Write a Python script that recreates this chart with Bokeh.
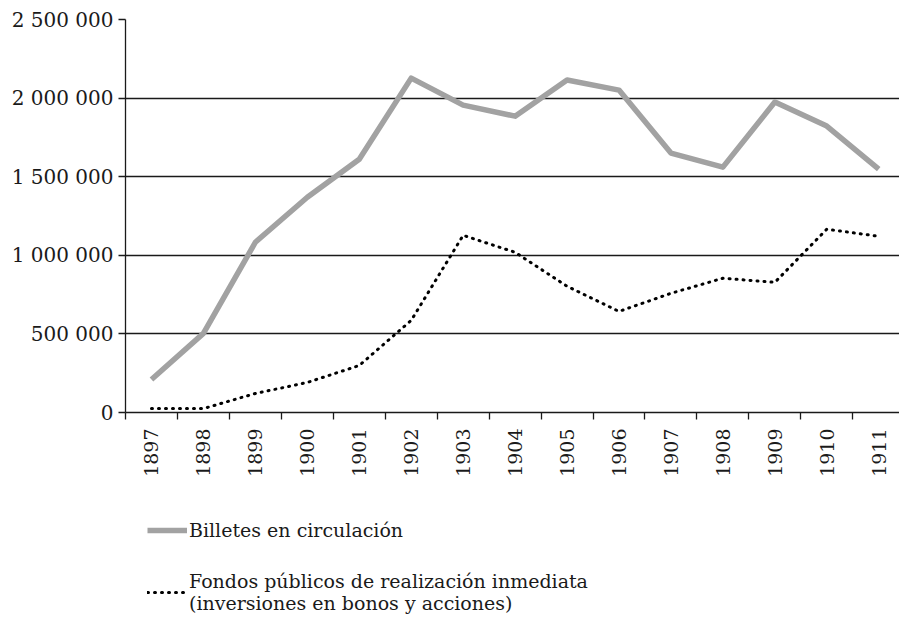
import math
from bokeh.plotting import figure
from bokeh.layouts import column
from bokeh.models import FixedTicker, Range1d, Legend, LegendItem
from bokeh.embed import file_html
from bokeh.resources import INLINE

years = ["1897", "1898", "1899", "1900", "1901", "1902", "1903", "1904",
         "1905", "1906", "1907", "1908", "1909", "1910", "1911"]
billetes = [210000, 503000, 1083000, 1369000, 1611000, 2127000, 1955000, 1885000,
            2115000, 2051000, 1650000, 1561000, 1975000, 1822000, 1548000]
fondos = [25000, 25000, 121000, 191000, 299000, 586000, 1127000, 1019000,
          803000, 643000, 758000, 854000, 828000, 1166000, 1121000]
y_ticks = [0, 500000, 1000000, 1500000, 2000000, 2500000]
y_tick_labels = ["0", "500 000", "1 000 000", "1 500 000", "2 000 000", "2 500 000"]
label_billetes = "Billetes en circulación"
label_fondos = "Fondos públicos de realización inmediata\n(inversiones en bonos y acciones)"

FONT = "DejaVu Serif"
TXT = "#1a1a1a"
GRAY_STYLE = dict(line_color="#a2a2a2", line_width=5.5, line_join="round")
DOT_STYLE = dict(line_color="black", line_width=3, line_dash="1 6", line_cap="round")

x_centers = [i + 0.5 for i in range(len(years))]
x_bounds = list(range(len(years) + 1))

p = figure(width=899, height=480, output_backend="svg", toolbar_location=None,
           x_range=Range1d(0, 14.9), y_range=Range1d(0, 2500000),
           min_border_left=125, min_border_right=0, min_border_top=19,
           min_border_bottom=68)
p.outline_line_color = None
p.background_fill_color = "white"
p.border_fill_color = "white"

p.xgrid.visible = False
p.ygrid.ticker = FixedTicker(ticks=y_ticks)
p.ygrid.grid_line_color = "#1a1a1a"
p.ygrid.grid_line_width = 1.3

# y axis
ya = p.yaxis[0]
ya.ticker = FixedTicker(ticks=y_ticks)
ya.major_label_overrides = dict(zip(y_ticks, y_tick_labels))
ya.major_tick_out = 7
ya.major_tick_in = 0
ya.minor_tick_line_color = None
ya.axis_line_color = "#1a1a1a"
ya.axis_line_width = 1.3
ya.major_tick_line_color = "#1a1a1a"
ya.major_tick_line_width = 1.3
ya.major_label_standoff = 5
ya.major_label_text_font = FONT
ya.major_label_text_font_size = "20px"
ya.major_label_text_color = TXT

# x axis
xa = p.xaxis[0]
xa.ticker = FixedTicker(ticks=x_centers, minor_ticks=x_bounds)
xa.major_label_overrides = dict(zip(x_centers, years))
xa.major_tick_line_color = None
xa.major_tick_out = 7
xa.major_tick_in = 0
xa.minor_tick_out = 7
xa.minor_tick_in = 0
xa.minor_tick_line_color = "#1a1a1a"
xa.minor_tick_line_width = 1.3
xa.axis_line_color = "#1a1a1a"
xa.axis_line_width = 1.3
xa.major_label_orientation = math.pi / 2
xa.major_label_standoff = 9
xa.major_label_text_font = FONT
xa.major_label_text_font_size = "19px"
xa.major_label_text_color = TXT

p.line(x_centers, billetes, **GRAY_STYLE)
p.line(x_centers, fondos, **DOT_STYLE)

# legend panel (separate figure below the chart); its series lie outside
# its view so only the legend swatches show
pl = figure(width=899, height=138, output_backend="svg", toolbar_location=None,
            x_range=Range1d(0, 1), y_range=Range1d(0, 1),
            x_axis_location=None, y_axis_location=None, min_border=0)
pl.outline_line_color = None
pl.grid.visible = False
l1 = pl.line(x_centers, billetes, **GRAY_STYLE)
l2 = pl.line(x_centers, fondos, **DOT_STYLE)

legend = Legend(items=[LegendItem(label=label_billetes, renderers=[l1]),
                       LegendItem(label=label_fondos, renderers=[l2])],
                location=(22, 4), orientation="vertical")
legend.border_line_color = None
legend.background_fill_alpha = 0
legend.padding = 0
legend.margin = 0
legend.spacing = 29
legend.glyph_width = 40
legend.label_standoff = 2
legend.label_text_font = FONT
legend.label_text_font_size = "19px"
legend.label_text_color = TXT
pl.add_layout(legend)

layout = column(p, pl, spacing=0)
open("out.html", "w").write(file_html(layout, INLINE))
